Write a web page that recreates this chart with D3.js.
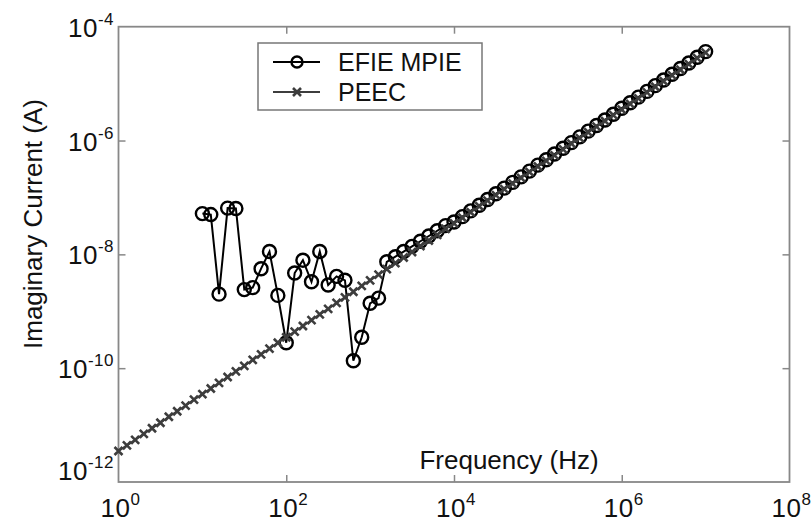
<!DOCTYPE html>
<html>
<head>
<meta charset="utf-8">
<script src="https://cdn.jsdelivr.net/npm/d3@7"></script>
<style>
  body { margin: 0; background: #fff; }
  svg { display: block; font-family: "Liberation Sans", Arial, sans-serif; }
</style>
</head>
<body>
<div id="chart"></div>
<script>
// frequency samples, 10 per decade, 10^0 .. 10^7 Hz
const freqHz = [
  1, 1.26, 1.58, 2.0, 2.51, 3.16, 3.98, 5.01, 6.31, 7.94,
  10, 12.6, 15.8, 20.0, 25.1, 31.6, 39.8, 50.1, 63.1, 79.4,
  100, 126, 158, 200, 251, 316, 398, 501, 631, 794,
  1e3, 1.26e3, 1.58e3, 2.0e3, 2.51e3, 3.16e3, 3.98e3, 5.01e3, 6.31e3, 7.94e3,
  1e4, 1.26e4, 1.58e4, 2.0e4, 2.51e4, 3.16e4, 3.98e4, 5.01e4, 6.31e4, 7.94e4,
  1e5, 1.26e5, 1.58e5, 2.0e5, 2.51e5, 3.16e5, 3.98e5, 5.01e5, 6.31e5, 7.94e5,
  1e6, 1.26e6, 1.58e6, 2.0e6, 2.51e6, 3.16e6, 3.98e6, 5.01e6, 6.31e6, 7.94e6,
  1e7
];

// PEEC imaginary current (A)
const peecA = [
  3.5e-12, 4.4e-12, 5.5e-12, 7.0e-12, 8.8e-12, 1.1e-11, 1.4e-11, 1.75e-11, 2.2e-11, 2.8e-11,
  3.5e-11, 4.4e-11, 5.5e-11, 7.0e-11, 8.8e-11, 1.1e-10, 1.4e-10, 1.75e-10, 2.2e-10, 2.8e-10,
  3.5e-10, 4.4e-10, 5.5e-10, 7.0e-10, 8.8e-10, 1.1e-9, 1.4e-9, 1.75e-9, 2.2e-9, 2.8e-9,
  3.5e-9, 4.4e-9, 5.5e-9, 7.0e-9, 8.8e-9, 1.1e-8, 1.4e-8, 1.75e-8, 2.2e-8, 2.8e-8,
  3.5e-8, 4.4e-8, 5.5e-8, 7.0e-8, 8.8e-8, 1.1e-7, 1.4e-7, 1.75e-7, 2.2e-7, 2.8e-7,
  3.5e-7, 4.4e-7, 5.5e-7, 7.0e-7, 8.8e-7, 1.1e-6, 1.4e-6, 1.75e-6, 2.2e-6, 2.8e-6,
  3.5e-6, 4.4e-6, 5.5e-6, 7.0e-6, 8.8e-6, 1.1e-5, 1.4e-5, 1.75e-5, 2.2e-5, 2.8e-5,
  3.5e-5
];

// EFIE MPIE imaginary current (A), starts at 10 Hz
const efieA = [
  null, null, null, null, null, null, null, null, null, null,
  5.2e-8, 5.0e-8, 2.0e-9, 6.5e-8, 6.4e-8, 2.4e-9, 2.6e-9, 5.6e-9, 1.12e-8, 1.9e-9,
  2.8e-10, 4.7e-9, 7.9e-9, 3.3e-9, 1.12e-8, 2.9e-9, 4.1e-9, 3.5e-9, 1.35e-10, 3.5e-10,
  1.38e-9, 1.7e-9, 7.4e-9, 9.1e-9, 1.12e-8, 1.38e-8, 1.7e-8, 2.1e-8, 2.6e-8, 3.2e-8,
  3.7e-8, 4.6e-8, 5.8e-8, 7.3e-8, 9.2e-8, 1.16e-7, 1.46e-7, 1.84e-7, 2.3e-7, 2.9e-7,
  3.7e-7, 4.6e-7, 5.8e-7, 7.3e-7, 9.2e-7, 1.16e-6, 1.46e-6, 1.84e-6, 2.3e-6, 2.9e-6,
  3.7e-6, 4.6e-6, 5.8e-6, 7.3e-6, 9.2e-6, 1.16e-5, 1.46e-5, 1.84e-5, 2.3e-5, 2.9e-5,
  3.65e-5
];

const xTickExps = [0, 2, 4, 6, 8];
const yTickExps = [-4, -6, -8, -10, -12];
const legendNames = ["EFIE MPIE", "PEEC"];

const WIDTH = 812, HEIGHT = 524;
const LEFT = 118.5, RIGHT = 789.5, TOP = 26.7, BOTTOM = 482;
const AXIS_COLOR = "#888";
const PEEC_COLOR = "#3d3d3d";
const TEXT_COLOR = "#111";

const svg = d3.select("#chart").append("svg")
  .attr("width", WIDTH)
  .attr("height", HEIGHT);

const x = d3.scaleLog().domain([1, 1e8]).range([LEFT, RIGHT]);
const y = d3.scaleLog().domain([1e-12, 1e-4]).range([BOTTOM, TOP]);

const rows = freqHz.map((f, i) => ({ f: f, peec: peecA[i], efie: efieA[i] }));

// inner tick marks (both sides), labels drawn separately
const innerX = xTickExps.slice(1, -1).map(e => Math.pow(10, e));
const innerY = yTickExps.slice(1, -1).map(e => Math.pow(10, e));

function styleAxis(g) {
  g.select(".domain").remove();
  g.selectAll("line").attr("stroke", AXIS_COLOR).attr("stroke-width", 1.5);
  g.selectAll("text").remove();
}
svg.append("g").attr("transform", `translate(0,${BOTTOM})`)
  .call(d3.axisBottom(x).tickValues(innerX).tickSize(-7)).call(styleAxis);
svg.append("g").attr("transform", `translate(0,${TOP})`)
  .call(d3.axisTop(x).tickValues(innerX).tickSize(-7)).call(styleAxis);
svg.append("g").attr("transform", `translate(${LEFT},0)`)
  .call(d3.axisLeft(y).tickValues(innerY).tickSize(-7)).call(styleAxis);
svg.append("g").attr("transform", `translate(${RIGHT},0)`)
  .call(d3.axisRight(y).tickValues(innerY).tickSize(-7)).call(styleAxis);

// frame
svg.append("rect")
  .attr("x", LEFT).attr("y", TOP)
  .attr("width", RIGHT - LEFT).attr("height", BOTTOM - TOP)
  .attr("fill", "none")
  .attr("stroke", AXIS_COLOR)
  .attr("stroke-width", 1.8);

// tick labels with superscript exponents
xTickExps.forEach(e => {
  const t = svg.append("text")
    .attr("x", x(Math.pow(10, e)) + 2)
    .attr("y", 517)
    .attr("text-anchor", "middle")
    .attr("font-size", 26)
    .attr("letter-spacing", 0.5)
    .attr("fill", TEXT_COLOR);
  t.append("tspan").text("10");
  t.append("tspan").attr("dy", -12).attr("font-size", 17).text(e);
});

yTickExps.forEach(e => {
  const base = e === -12 ? y(Math.pow(10, e)) - 2 : y(Math.pow(10, e)) + 10;
  const t = svg.append("text")
    .attr("x", 114)
    .attr("y", base)
    .attr("text-anchor", "end")
    .attr("font-size", 26)
    .attr("letter-spacing", 0.5)
    .attr("fill", TEXT_COLOR);
  t.append("tspan").text("10");
  t.append("tspan").attr("dy", -12).attr("font-size", 17).text(e);
});

// axis titles
svg.append("text")
  .attr("x", 509).attr("y", 469)
  .attr("text-anchor", "middle")
  .attr("font-size", 26)
  .attr("fill", TEXT_COLOR)
  .text("Frequency (Hz)");

svg.append("text")
  .attr("transform", "translate(42,224) rotate(-90)")
  .attr("text-anchor", "middle")
  .attr("font-size", 26)
  .attr("fill", TEXT_COLOR)
  .text("Imaginary Current (A)");

const plot = svg.append("g");

// EFIE MPIE line + circles
const efieRows = rows.filter(d => d.efie != null);
plot.append("path")
  .datum(efieRows)
  .attr("fill", "none")
  .attr("stroke", "#000")
  .attr("stroke-width", 2)
  .attr("d", d3.line().x(d => x(d.f)).y(d => y(d.efie)));

plot.selectAll("circle.efie")
  .data(efieRows)
  .enter()
  .append("circle")
  .attr("class", "efie")
  .attr("cx", d => x(d.f))
  .attr("cy", d => y(d.efie))
  .attr("r", 6.5)
  .attr("fill", "none")
  .attr("stroke", "#000")
  .attr("stroke-width", 2.4);

// PEEC line + x markers
plot.append("path")
  .datum(rows)
  .attr("fill", "none")
  .attr("stroke", PEEC_COLOR)
  .attr("stroke-width", 2)
  .attr("d", d3.line().x(d => x(d.f)).y(d => y(d.peec)));

const cross = "M-4,-4L4,4M-4,4L4,-4";
plot.selectAll("path.peec")
  .data(rows)
  .enter()
  .append("path")
  .attr("class", "peec")
  .attr("transform", d => `translate(${x(d.f)},${y(d.peec)})`)
  .attr("d", cross)
  .attr("stroke", PEEC_COLOR)
  .attr("stroke-width", 2.6)
  .attr("fill", "none");

// legend
const legend = svg.append("g");
legend.append("rect")
  .attr("x", 258).attr("y", 43)
  .attr("width", 224).attr("height", 67)
  .attr("fill", "#fff")
  .attr("stroke", "#777")
  .attr("stroke-width", 1.5);

legendNames.forEach((name, i) => {
  const ly = 62 + i * 30;
  legend.append("line")
    .attr("x1", 273).attr("x2", 320)
    .attr("y1", ly).attr("y2", ly)
    .attr("stroke", i === 0 ? "#000" : PEEC_COLOR)
    .attr("stroke-width", 2.2);
  if (i === 0) {
    legend.append("circle")
      .attr("cx", 297).attr("cy", ly).attr("r", 5.5)
      .attr("fill", "none").attr("stroke", "#000").attr("stroke-width", 2.4);
  } else {
    legend.append("path")
      .attr("transform", `translate(297,${ly})`)
      .attr("d", cross)
      .attr("stroke", PEEC_COLOR).attr("stroke-width", 2.6);
  }
  legend.append("text")
    .attr("x", 338).attr("y", ly + 9)
    .attr("font-size", 25)
    .attr("fill", TEXT_COLOR)
    .text(name);
});
</script>
</body>
</html>
